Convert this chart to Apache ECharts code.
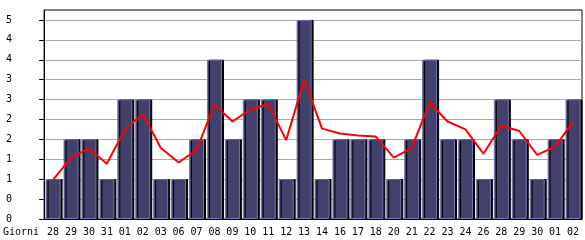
<!DOCTYPE html>
<html>
<head>
<meta charset="utf-8">
<script src="https://cdn.jsdelivr.net/npm/echarts@6/dist/echarts.min.js"></script>
<style>
html,body{margin:0;padding:0;background:#fff;}
#chart{width:585px;height:240px;}
</style>
</head>
<body>
<div id="chart"></div>
<script>
var categories = ['28','29','30','31','01','02','03','06','07','08','09','10','11','12','13','14','16','17','18','20','21','22','23','24','26','28','29','30','01','02'];
var barValues = [1,2,2,1,3,3,1,1,2,4,2,3,3,1,5,1,2,2,2,1,2,4,2,2,1,3,2,1,2,3];
var lineValues = [0.98,1.54,1.77,1.39,2.25,2.64,1.79,1.42,1.73,2.88,2.45,2.75,2.89,1.98,3.5,2.27,2.15,2.1,2.07,1.54,1.78,2.93,2.45,2.25,1.64,2.35,2.21,1.61,1.82,2.44];
var yTicks = [0,0.5,1,1.5,2,2.5,3,3.5,4,4.5,5];
var xAxisName = 'Giorni';

var font = 'DejaVu Sans Mono';
var chart = echarts.init(document.getElementById('chart'), null, {renderer:'canvas'});
chart.setOption({
  animation: false,
  backgroundColor: '#ffffff',
  grid: {left: 40, right: 3, top: 10, bottom: 21, show: true, borderColor: '#000', borderWidth: 1, backgroundColor: 'transparent'},
  xAxis: {
    type: 'category',
    data: categories,
    name: xAxisName,
    nameLocation: 'start',
    nameGap: 5,
    nameTextStyle: {fontFamily: font, fontSize: 10, color: '#000', verticalAlign: 'top', align: 'right', padding: [8,0,0,0]},
    axisLine: {lineStyle: {color: '#000', width: 1}},
    axisTick: {alignWithLabel: true, length: 5, lineStyle: {color: '#000'}},
    axisLabel: {fontFamily: font, fontSize: 10, color: '#000', margin: 8, interval: 0}
  },
  yAxis: {
    type: 'value',
    min: 0,
    max: 5.25,
    interval: 0.5,
    axisLine: {show: true, lineStyle: {color: '#000', width: 1}},
    axisTick: {show: true, length: 5, lineStyle: {color: '#000'}, customValues: yTicks},
    axisLabel: {fontFamily: font, fontSize: 10, color: '#000', align: 'left', margin: 38, customValues: yTicks,
      formatter: function(v){ return String(Math.floor(v)); }},
    splitLine: {show: true, lineStyle: {color: '#aaaaaa', width: 1}}
  },
  series: [
    {
      type: 'bar',
      data: barValues,
      barWidth: 15,
      itemStyle: {color: '#41416b', borderColor: '#7676b6', borderWidth: 1, shadowColor: '#000', shadowOffsetX: 2, shadowOffsetY: 0, shadowBlur: 0},
      z: 2
    },
    {
      type: 'line',
      data: lineValues,
      showSymbol: false,
      symbol: 'none',
      lineStyle: {color: '#ff0000', width: 2},
      z: 3
    }
  ]
});
</script>
</body>
</html>
